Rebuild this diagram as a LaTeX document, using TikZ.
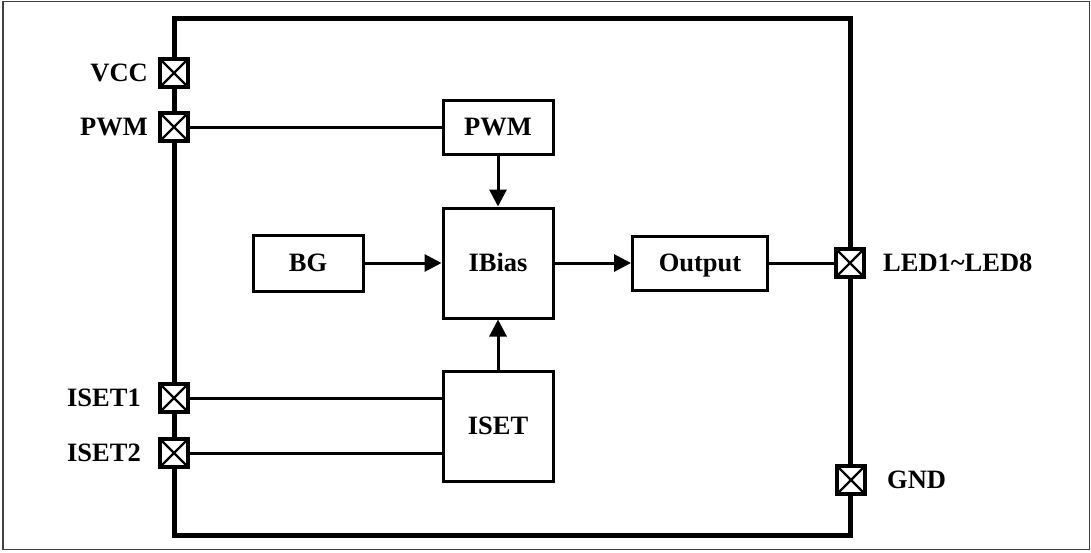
\documentclass[tikz,border=0pt]{standalone}
\usepackage{fontspec}
\setmainfont{Liberation Serif}
\usetikzlibrary{arrows.meta}
\tikzset{
    pin/.style={draw, line width=3.2pt, fill=white, minimum size=28pt, inner sep=0pt,
        path picture={\draw[line width=2.2pt] (path picture bounding box.north west)--(path picture bounding box.south east)
            (path picture bounding box.north east)--(path picture bounding box.south west);}},
    blk/.style={draw, line width=3pt, inner sep=0pt, text height=17.5pt, text depth=0pt},
    wire/.style={line width=3pt},
    sig/.style={wire, -{Triangle[length=17pt,width=17pt]}}
}
\begin{document}
\begin{tikzpicture}[x=1pt,y=-1pt, font=\fontsize{26.5}{30}\selectfont\bfseries]
    \useasboundingbox (0,0) rectangle (1091,552);
    \draw[line width=1.8pt, black!75] (3,1.5) rectangle (1089.5,549.5);
    % chip outline
    \draw[line width=5pt] (174,18) rectangle (850,535);
    % pins on the left side
    \foreach \n/\y/\x in {VCC/73/148, PWM/127/148, ISET1/398/141, ISET2/453/141} {
        \node[pin] (p\n) at (174,\y) {};
        \node[anchor=east, inner sep=0pt] (l\n) at (\x,\y) {\n};
    }
    % pins on the right side
    \node[pin] (pLED) at (850,263) {};
    \node[anchor=west, inner sep=0pt] (lLED) at (883,263) {LED1\textasciitilde LED8};
    \node[pin] (pGND) at (851,480) {};
    \node[anchor=west, inner sep=0pt] (lGND) at (887,480) {GND};
    % blocks
    \node[blk, minimum width=110pt, minimum height=54pt] (pwm) at (498,127) {PWM};
    \node[blk, minimum width=110pt, minimum height=110pt] (ibias) at (498,263) {IBias};
    \node[blk, minimum width=110pt, minimum height=56pt] (bg) at (308,263) {BG};
    \node[blk, minimum width=135pt, minimum height=54pt] (out) at (700,263) {Output};
    \node[blk, minimum width=110pt, minimum height=110pt] (iset) at (498,426) {ISET};
    % connections
    \draw[wire] (pPWM)--(pwm);
    \draw[sig] (pwm)--(ibias);
    \draw[sig] (bg)--(ibias);
    \draw[sig] (ibias)--(out);
    \draw[sig] (iset)--(ibias);
    \draw[wire] (out)--(pLED);
    \draw[wire] (pISET1)--(pISET1 -| iset.west);
    \draw[wire] (pISET2)--(pISET2 -| iset.west);
\end{tikzpicture}
\end{document}
